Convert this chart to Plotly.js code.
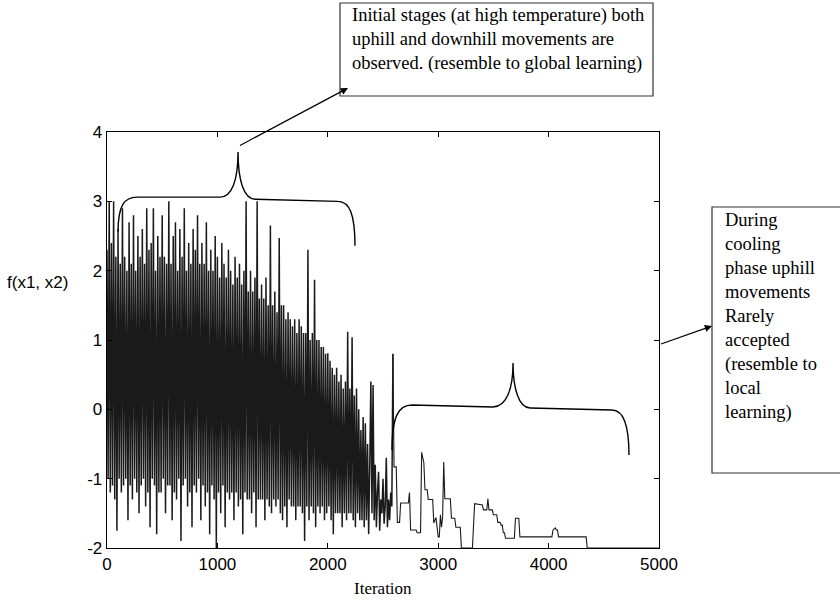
<!DOCTYPE html>
<html>
<head>
<meta charset="utf-8">
<script src="https://cdn.plot.ly/plotly-3.0.1.min.js"></script>
<style>html,body{margin:0;padding:0;background:#fff;}#chart{width:840px;height:602px;}</style>
</head>
<body>
<div id="chart"></div>
<script>
// Dense early phase: f(x1,x2) sampled every 10 iterations from 0 to 2590
const denseStart = 0;
const denseStep = 10;
const denseY = [
  2.3, -1.0, 3.0, -1.2, 2.4, -1.1, 3.0, -1.3, 2.2, -1.75,
  2.6, -1.0, 2.1, -1.2, 2.9, -1.1, 2.2, -1.0, 2.0, -1.6,
  2.7, -1.1, 2.1, -1.3, 2.8, -1.0, 2.0, -1.2, 2.5, -1.5,
  2.2, -1.1, 2.6, -1.0, 2.1, -1.4, 2.9, -1.2, 2.3, -1.7,
  2.4, -1.0, 2.9, -1.1, 2.0, -1.8, 2.5, -1.2, 2.2, -1.2,
  2.8, -1.0, 2.2, -1.5, 2.1, -1.1, 3.0, -1.1, 2.1, -1.6,
  2.5, -1.2, 2.7, -1.3, 2.0, -1.0, 2.6, -1.9, 2.2, -1.1,
  2.9, -1.0, 2.0, -1.4, 2.4, -1.2, 2.1, -1.7, 2.6, -1.1,
  2.3, -1.2, 2.8, -1.0, 2.1, -1.6, 2.4, -1.1, 2.1, -1.4,
  2.7, -1.2, 2.0, -1.8, 2.3, -1.1, 2.0, -1.3, 2.5, -2.0,
  2.2, -1.2, 1.9, -1.5, 2.4, -1.1, 2.1, -1.7, 1.9, -1.2,
  2.3, -1.3, 2.0, -1.2, 1.8, -1.6, 2.2, -1.2, 1.9, -1.4,
  2.1, -1.3, 1.8, -1.8, 2.0, -1.2, 3.0, -1.3, 1.7, -1.3,
  2.0, -1.5, 1.7, -1.2, 1.9, -1.7, 3.0, -1.3, 1.6, -1.3,
  1.8, -1.3, 1.6, -1.6, 1.9, -1.3, 1.5, -1.4, 2.65, -1.5,
  1.5, -1.3, 1.7, -1.4, 1.4, -1.3, 2.47, -1.5, 1.5, -1.6,
  1.5, -1.4, 1.3, -1.7, 1.4, -1.3, 1.3, -1.4, 1.2, -1.4,
  1.3, -1.6, 1.1, -1.4, 1.3, -1.4, 1.2, -1.5, 1.1, -1.9,
  1.1, -1.4, 2.3, -1.6, 1.0, -1.4, 1.1, -1.5, 1.87, -1.7,
  1.0, -1.4, 1.0, -1.5, 0.9, -1.4, 0.9, -1.6, 0.8, -1.5,
  0.81, -1.4, 0.7, -1.6, 0.6, -1.8, 0.5, -1.5, 0.6, -1.5,
  0.4, -1.5, 0.5, -1.7, 0.3, -1.5, 0.4, -1.6, 1.12, -1.5,
  0.3, -1.5, 1.04, -1.6, 0.2, -1.7, 0.3, -1.5, 0.0, -1.6,
  -0.3, -1.6, -0.11, -1.7, -0.2, -1.6, -0.5, -1.8, -0.8, 0.4,
  -1.5, 0.35, -1.6, -0.8, -1.7, -1.2, -0.9, -1.75, -1.3, -1.5,
  -1.0, -1.65, -1.4, -0.7, -1.7, -1.3, -1.6, -1.2, -1.4, 0.8
];

// Cooling phase: step-like accepted moves
const tailX = [2590, 2600, 2620, 2630, 2650, 2660, 2730, 2740, 2750, 2800, 2810, 2840, 2850, 2870, 2880, 2900, 2910, 2950, 2960, 2980, 3000, 3010, 3020, 3030, 3040, 3050, 3060, 3110, 3120, 3150, 3160, 3200, 3210, 3310, 3330, 3400, 3410, 3440, 3450, 3460, 3490, 3500, 3530, 3540, 3560, 3570, 3580, 3590, 3600, 3610, 3690, 3700, 3730, 3740, 4030, 4040, 4060, 4070, 4080, 4090, 4340, 4350, 5000];
const tailY = [0.8, -0.83, -0.83, -1.63, -1.63, -1.35, -1.35, -1.2, -1.74, -1.74, -1.78, -1.78, -0.62, -0.77, -1.16, -1.16, -1.3, -1.3, -1.64, -1.56, -1.84, -1.84, -1.52, -1.7, -1.55, -0.76, -1.29, -1.29, -1.57, -1.57, -1.7, -1.7, -2.0, -2.0, -1.36, -1.38, -1.45, -1.45, -1.29, -1.45, -1.45, -1.52, -1.52, -1.63, -1.63, -1.67, -1.67, -1.78, -1.78, -1.86, -1.86, -1.57, -1.57, -1.84, -1.84, -1.74, -1.71, -1.74, -1.74, -1.84, -1.84, -2.0, -2.0];

const xTickVals = [0, 1000, 2000, 3000, 4000, 5000];
const xTickText = ['0', '1000', '2000', '3000', '4000', '5000'];
const yTickVals = [-2, -1, 0, 1, 2, 3, 4];
const yTickText = ['-2', '-1', '0', '1', '2', '3', '4'];

const topNote = 'Initial stages (at high temperature) both<br>uphill and downhill movements are<br>observed. (resemble to global learning)';
const sideNote = 'During<br>cooling<br>phase uphill<br>movements<br>Rarely<br>accepted<br>(resemble to<br>local<br>learning)';

// layout geometry (pixel -> paper)
const L = 107, R = 659, T = 132, B = 548;
const px = v => (v - L) / (R - L);
const py = v => (B - v) / (B - T);

const lineColor = '#1a1a1a';
const traces = [
  {type: 'scatter', mode: 'lines', x0: denseStart, dx: denseStep, y: denseY,
   line: {color: lineColor, width: 1.5, simplify: false}, hoverinfo: 'skip', showlegend: false},
  {type: 'scatter', mode: 'lines', x: tailX, y: tailY,
   line: {color: lineColor, width: 1.1, simplify: false}, hoverinfo: 'skip', showlegend: false}
];

const serif = 'Liberation Serif, Times New Roman, serif';
const sans = 'Liberation Sans, Arial, Helvetica, sans-serif';

const layout = {
  width: 840, height: 602,
  margin: {l: L, r: 840 - R, t: T, b: 602 - B},
  paper_bgcolor: '#fff', plot_bgcolor: '#fff',
  showlegend: false,
  xaxis: {range: [0, 5000], tickvals: xTickVals, ticktext: xTickText,
    ticks: 'inside', ticklen: 5, tickwidth: 1, tickcolor: '#000',
    showline: true, linecolor: '#000', linewidth: 1.3, mirror: 'ticks',
    showgrid: false, zeroline: false, fixedrange: true,
    tickfont: {family: sans, size: 17, color: '#000'}},
  yaxis: {range: [-2, 4], tickvals: yTickVals, ticktext: yTickText,
    ticks: 'inside', ticklen: 5, tickwidth: 1, tickcolor: '#000',
    showline: true, linecolor: '#000', linewidth: 1.3, mirror: 'ticks',
    showgrid: false, zeroline: false, fixedrange: true,
    tickfont: {family: sans, size: 17, color: '#000'}},
  shapes: [
    {type: 'rect', xref: 'paper', yref: 'paper', x0: px(340), x1: px(653), y0: py(3), y1: py(96),
     line: {color: '#333', width: 1.2}, fillcolor: 'rgba(0,0,0,0)'},
    {type: 'rect', xref: 'paper', yref: 'paper', x0: px(712), x1: px(850), y0: py(207), y1: py(473),
     line: {color: '#333', width: 1.2}, fillcolor: 'rgba(0,0,0,0)'},
    {type: 'path', xref: 'x', yref: 'y', line: {color: '#000', width: 1.4},
     path: 'M 100,2.56 C 100,2.95 160,3.06 272,3.06 L 1024,3.06 C 1130,3.06 1187,3.3 1187,3.71 C 1187,3.3 1240,3.03 1341,3.03 L 2092,3.0 C 2200,3.0 2246,2.8 2246,2.36'},
    {type: 'path', xref: 'x', yref: 'y', line: {color: '#000', width: 1.4},
     path: 'M 2582,-0.587 C 2582,-0.1 2640,0.063 2763,0.063 L 3496,0.034 C 3620,0.034 3678,0.3 3678,0.668 C 3678,0.3 3730,0.019 3832,0.019 L 4574,-0.01 C 4690,-0.01 4728,-0.3 4728,-0.66'}
  ],
  annotations: [
    {xref: 'paper', yref: 'paper', x: px(350), y: py(40), xanchor: 'left', yanchor: 'middle',
     text: topNote, align: 'left', showarrow: false, font: {family: serif, size: 18.5, color: '#000'}},
    {xref: 'paper', yref: 'paper', x: px(723), y: py(316), xanchor: 'left', yanchor: 'middle',
     text: sideNote, align: 'left', showarrow: false, font: {family: serif, size: 18.5, color: '#000'}},
    {xref: 'paper', yref: 'paper', x: px(5), y: py(282), xanchor: 'left', yanchor: 'middle',
     text: 'f(x1, x2)', showarrow: false, font: {family: sans, size: 17, color: '#000'}},
    {xref: 'paper', yref: 'paper', x: 0.5, y: py(588), xanchor: 'center', yanchor: 'middle',
     text: 'Iteration', showarrow: false, font: {family: serif, size: 17, color: '#000'}},
    {xref: 'paper', yref: 'paper', x: px(348), y: py(88), ax: 237 - 348, ay: 147 - 88,
     text: ' ', showarrow: true, arrowhead: 2, arrowsize: 1.2, arrowwidth: 1.2, arrowcolor: '#000'},
    {xref: 'paper', yref: 'paper', x: px(712), y: py(326), ax: 658 - 712, ay: 345 - 326,
     text: ' ', showarrow: true, arrowhead: 2, arrowsize: 1.2, arrowwidth: 1.2, arrowcolor: '#000'}
  ]
};

Plotly.newPlot('chart', traces, layout, {displayModeBar: false, staticPlot: true});
</script>
</body>
</html>
